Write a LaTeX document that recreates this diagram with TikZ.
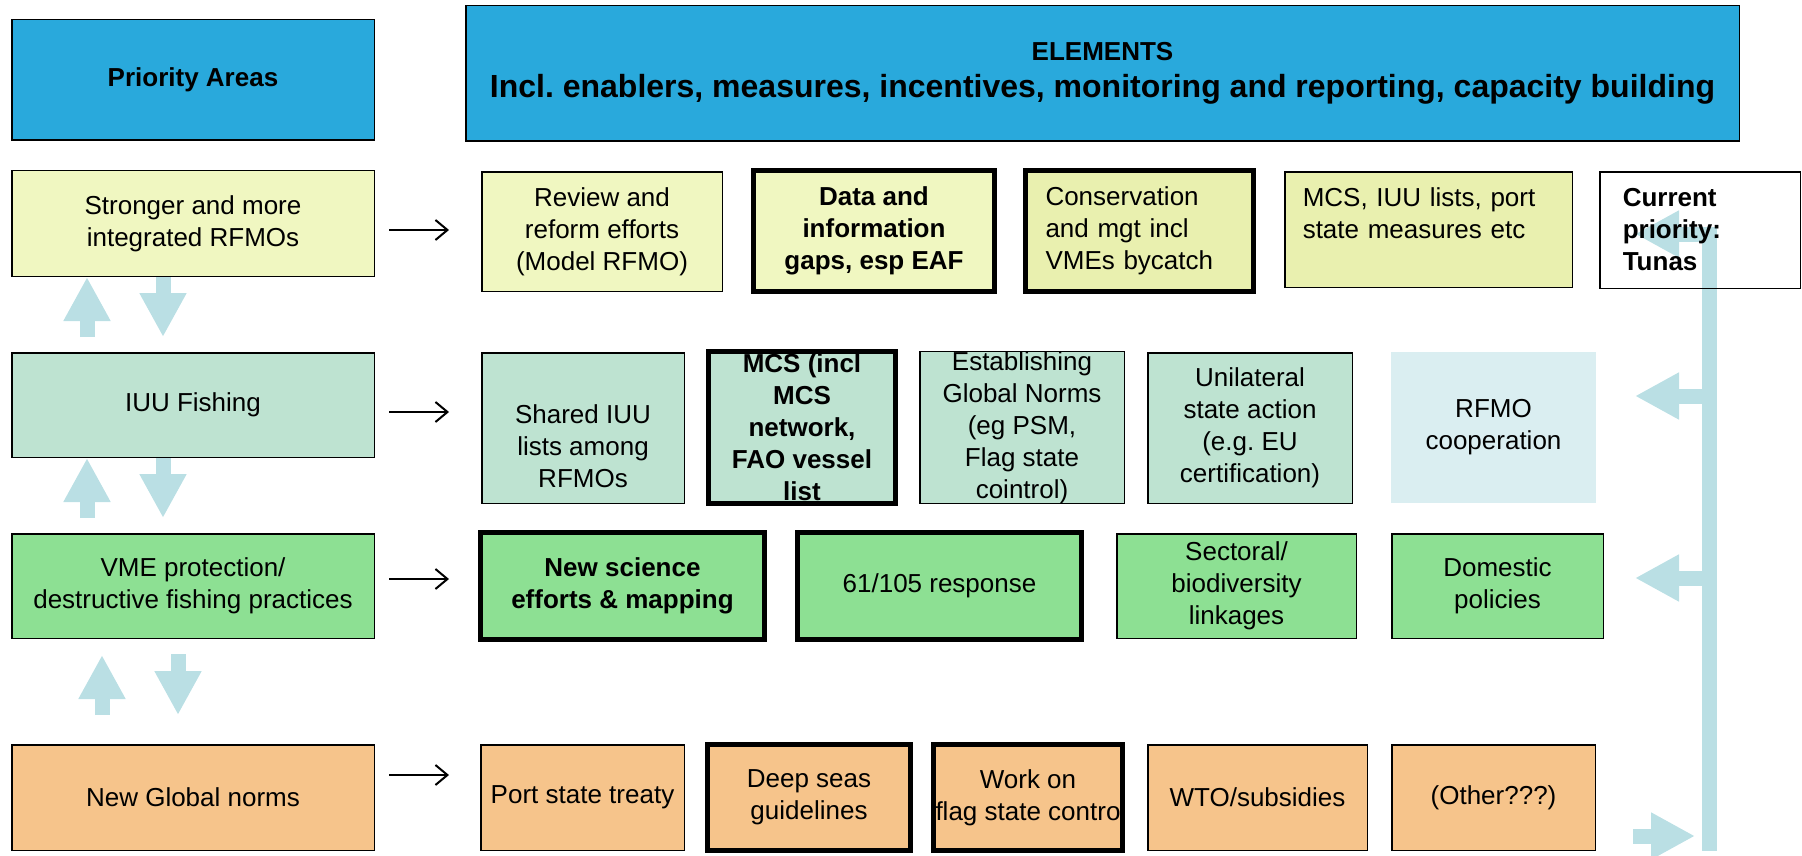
\documentclass[tikz,border=0pt]{standalone}
\usepackage{fontspec}
\setmainfont{Liberation Sans}
\usetikzlibrary{arrows.meta}
\frenchspacing

\definecolor{headblue}{RGB}{41,169,220}
\definecolor{paleyellow}{RGB}{240,247,193}
\definecolor{dullyellow}{RGB}{233,240,175}
\definecolor{mint}{RGB}{190,227,209}
\definecolor{paleblue}{RGB}{218,238,241}
\definecolor{leafgreen}{RGB}{141,224,147}
\definecolor{peach}{RGB}{246,196,139}
\definecolor{flowblue}{RGB}{186,223,228}

\tikzset{
  ->/.style={draw=black,line width=2pt,-{Straight Barb[length=12pt,width=20pt]}},
  box/.style={draw=black,line width=1.5pt,inner sep=0pt,align=center},
  heavybox/.style={box,line width=5pt},
  leftbox/.style={align=left,inner ysep=0pt},
  strong/.style={font=\fontsize{26}{32}\selectfont\bfseries},
  bigarrow/.style={draw=flowblue,line width=15pt,-{Triangle[length=44pt,width=44pt]}},
  backbar/.style={draw=flowblue,line width=15pt}
}
\tikzstyle{every node}=[font=\fontsize{26}{32}\selectfont]

\begin{document}
\begin{tikzpicture}[x=1pt,y=-1pt]
    \useasboundingbox (0,0) rectangle (1802,856);
    % bar on the right, under the boxes
    \coordinate (bartop) at (1709,227);
    \coordinate (barbot) at (1709,851);
    \coordinate (tipA) at (1635,234);
    \coordinate (tipB) at (1635,396);
    \coordinate (tipC) at (1635,578);
    \coordinate (tailD) at (1633,836);
    \draw[backbar] (bartop) -- (barbot);
    \draw[bigarrow] (bartop |- tipA) -- (tipA);
    \draw[bigarrow] (bartop |- tipB) -- (tipB);
    \draw[bigarrow] (bartop |- tipC) -- (tipC);
    \draw[bigarrow,shorten >=14pt] (tailD) -- (tailD -| barbot);
    % header
    \node[box,fill=headblue,strong,minimum width=362.5pt,minimum height=120.5pt] (P) at (193,80) {Priority Areas};
    \node[box,fill=headblue,font=\fontsize{26}{37}\selectfont\bfseries,minimum width=1273.5pt,minimum height=135.5pt] (E) at (1102.5,73.5)
        {ELEMENTS\\\fontsize{32}{37}\selectfont Incl. enablers, measures, incentives, monitoring and reporting, capacity building};
    % row 1
    \node[box,fill=paleyellow,minimum width=362.5pt,minimum height=105.5pt] (A1) at (193,223.5) {Stronger and more\\integrated RFMOs};
    \node[box,fill=paleyellow,minimum width=240.5pt,minimum height=119.5pt] (A2) at (602,231.5) {Review and\\reform efforts\\(Model RFMO)};
    \node[heavybox,fill=paleyellow,strong,minimum width=241pt,minimum height=121pt] (A3) at (874,231) {Data and\\information\\gaps, esp EAF};
    \node[heavybox,leftbox,fill=dullyellow,inner xsep=20pt,text width=188pt,minimum height=121pt] (A4) at (1139.5,231) {Conservation\\and mgt incl\\VMEs bycatch};
    \node[box,leftbox,fill=dullyellow,inner xsep=18pt,text width=251.5pt,minimum height=115.5pt] (A5) at (1428.5,229.5) {MCS, IUU lists, port\\state measures etc\\\mbox{}};
    \node[box,leftbox,strong,inner xsep=23pt,text width=154.5pt,minimum height=116.5pt] (A6) at (1700,230) {Current\\priority:\\Tunas};
    % row 2
    \node[box,fill=mint,minimum width=362.5pt,minimum height=104.5pt] (B1) at (193,405) {IUU Fishing};
    \node[box,fill=mint,minimum width=202.5pt,minimum height=150.5pt] (B2) at (583,428) {\strut\\Shared IUU\\lists among\\RFMOs};
    \node[heavybox,fill=mint,strong,minimum width=187pt,minimum height=152pt] (B3) at (802,427.5) {MCS (incl\\MCS\\network,\\FAO vessel\\list};
    \node[box,fill=mint,minimum width=204.5pt,minimum height=149.5pt] (B4) at (1022,427.5) {Establishing\\Global Norms\\(eg PSM,\\Flag state\\cointrol)};
    \node[box,fill=mint,minimum width=204.5pt,minimum height=150.5pt] (B5) at (1250,428) {Unilateral\\state action\\(e.g. EU\\certification)};
    \node[box,draw=none,fill=paleblue,minimum width=205pt,minimum height=151pt] (B6) at (1493.5,427.5) {RFMO\\cooperation};
    % row 3
    \node[box,fill=leafgreen,minimum width=362.5pt,minimum height=104.5pt] (C1) at (193,586) {VME protection/\\destructive fishing practices};
    \node[heavybox,fill=leafgreen,strong,minimum width=284pt,minimum height=107pt] (C2) at (622.5,586) {New science\\efforts \& mapping};
    \node[heavybox,fill=leafgreen,minimum width=284pt,minimum height=107pt] (C3) at (939.5,586) {61/105 response};
    \node[box,fill=leafgreen,minimum width=239.5pt,minimum height=104.5pt] (C4) at (1236.5,586) {Sectoral/\\biodiversity\\linkages};
    \node[box,fill=leafgreen,minimum width=211.5pt,minimum height=104.5pt] (C5) at (1497.5,586) {Domestic\\policies};
    % row 4
    \node[box,fill=peach,minimum width=362.5pt,minimum height=105.5pt] (D1) at (193,797.5) {New Global norms};
    \node[box,fill=peach,minimum width=203.5pt,minimum height=105.5pt] (D2) at (582.5,797.5) {Port state treaty};
    \node[heavybox,fill=peach,minimum width=203pt,minimum height=106pt] (D3) at (809,797.5) {Deep seas\\guidelines};
    \node[heavybox,fill=peach,minimum width=189pt,minimum height=106pt] (D4) at (1028,797.5) {Work on\\flag state contro};
    \node[box,fill=peach,minimum width=219.5pt,minimum height=105.5pt] (D5) at (1257.5,797.5) {WTO/subsidies};
    \node[box,fill=peach,minimum width=203.5pt,minimum height=105.5pt] (D6) at (1493.5,797.5) {(Other???)};
    % priority areas lead to elements
    \draw[->,shorten <=14pt,shorten >=32pt] ([yshift=-6.5pt]A1.east) -- ([yshift=-6.5pt]A1.east -| A2.west);
    \draw[->,shorten <=14pt,shorten >=32pt] ([yshift=-7pt]B1.east) -- ([yshift=-7pt]B1.east -| B2.west);
    \draw[->,shorten <=14pt,shorten >=29pt] ([yshift=7pt]C1.east) -- ([yshift=7pt]C1.east -| C2.west);
    \draw[->,shorten <=14pt,shorten >=31pt] ([yshift=22.5pt]D1.east) -- ([yshift=22.5pt]D1.east -| D2.west);
    % links between priority areas
    \draw[bigarrow,shorten <=15pt] ([xshift=-106pt]B1.north) -- ([xshift=-106pt]A1.south);
    \draw[bigarrow,shorten >=15pt] ([xshift=-30pt]A1.south) -- ([xshift=-30pt]B1.north);
    \draw[bigarrow,shorten <=15pt] ([xshift=-106pt]C1.north) -- ([xshift=-106pt]B1.south);
    \draw[bigarrow,shorten >=15pt] ([xshift=-30pt]B1.south) -- ([xshift=-30pt]C1.north);
    \draw[bigarrow,shorten <=29pt,shorten >=16pt] ([xshift=-91pt]D1.north) -- ([xshift=-91pt]C1.south);
    \draw[bigarrow,shorten <=15pt,shorten >=29pt] ([xshift=-15pt]C1.south) -- ([xshift=-15pt]D1.north);
\end{tikzpicture}
\end{document}
